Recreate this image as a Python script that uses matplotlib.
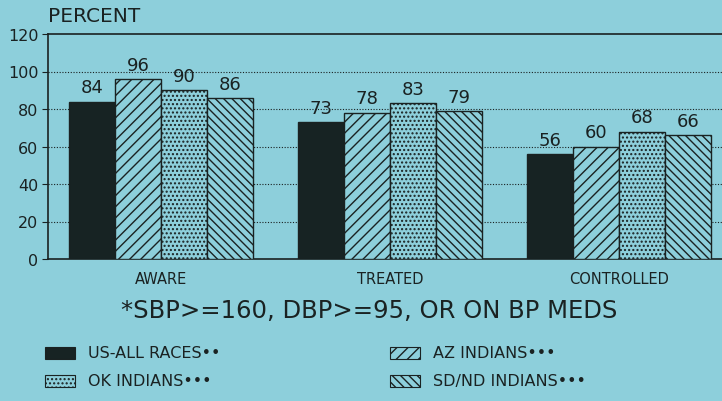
import matplotlib
matplotlib.use("Agg")
import matplotlib.pyplot as plt
from matplotlib.patches import Rectangle
import numpy as np

categories = ["AWARE", "TREATED", "CONTROLLED"]
series_names = ["US-ALL RACES••", "AZ INDIANS•••", "OK INDIANS•••", "SD/ND INDIANS•••"]
us_all = [84, 73, 56]
az_ind = [96, 78, 60]
ok_ind = [90, 83, 68]
sd_ind = [86, 79, 66]
yticks = [0, 20, 40, 60, 80, 100, 120]

BG = "#8dcfdb"
INK = "#1a2222"
plt.rcParams["hatch.linewidth"] = 1.0
plt.rcParams["hatch.color"] = INK
plt.rcParams["font.family"] = ["DejaVu Sans"]

fig = plt.figure(figsize=(7.22, 4.02), dpi=100, facecolor=BG)
ax = fig.add_axes([48/722, (402-260)/402, 1 - 48/722, 225/402])
ax.set_facecolor(BG)

x = np.arange(len(categories))
w = 0.2
styles = [
    dict(color="#172323", hatch=None),
    dict(color=BG, hatch="///"),
    dict(color=BG, hatch="...."),
    dict(color=BG, hatch="\\\\\\\\"),
]
data = [us_all, az_ind, ok_ind, sd_ind]
offsets = [-1.5, -0.5, 0.5, 1.5]
for vals, off, st in zip(data, offsets, styles):
    bars = ax.bar(x + off*w, vals, w, facecolor=st["color"], edgecolor=INK,
                  hatch=st["hatch"], linewidth=1.0, zorder=3)
    for b, v in zip(bars, vals):
        ax.text(b.get_x() + b.get_width()/2, v + 2.8, str(v), ha="center",
                va="bottom", fontsize=13, color=INK)

ax.set_xlim((48-161)/229, (722-161)/229)
ax.set_ylim(0, 120)
ax.set_yticks(yticks)
ax.set_yticklabels([str(t) for t in yticks], fontsize=11.5, color=INK)
ax.set_xticks(x)
ax.set_xticklabels(categories, fontsize=10.5, color=INK)
ax.tick_params(axis="x", length=0, pad=9)
ax.tick_params(axis="y", length=4, direction="out", width=0.8, color=INK, pad=3)
for yv in yticks[1:-1]:
    ax.axhline(yv, color=INK, linestyle=(0, (1, 1.5)), linewidth=0.8, zorder=1)
ax.spines["right"].set_visible(False)
for s in ["top", "left", "bottom"]:
    ax.spines[s].set_color(INK)
    ax.spines[s].set_linewidth(1.2)

fig.text(48/722, 1 - 16/402, "PERCENT", fontsize=14.5, color=INK, va="center", ha="left")
fig.text(369/722, 1 - 311/402, "*SBP>=160, DBP>=95, OR ON BP MEDS", fontsize=17.5,
         color=INK, ha="center", va="center")

# legend
for (px, py), idx in zip([(45, 354), (390, 354), (45, 382), (390, 382)], [0, 1, 2, 3]):
    st = styles[idx]
    r = Rectangle((px/722, 1 - (py+6)/402), 30/722, 12/402, transform=fig.transFigure,
                  facecolor=st["color"], edgecolor=INK, hatch=st["hatch"], linewidth=0.8)
    fig.add_artist(r)
    fig.text((px+43)/722, 1 - py/402, series_names[idx], fontsize=11.5, color=INK,
             ha="left", va="center")

fig.savefig("out.png", dpi=100, facecolor=BG)
